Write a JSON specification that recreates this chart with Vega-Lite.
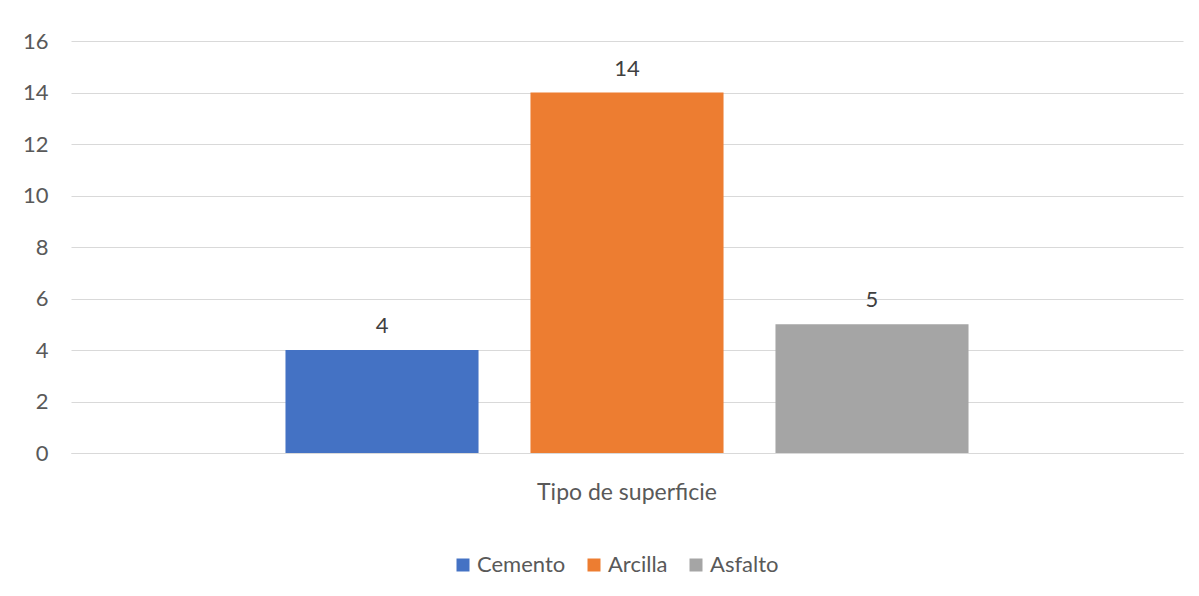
{
  "$schema": "https://vega.github.io/schema/vega-lite/v6.json",
  "autosize": {"type": "none"},
  "width": 1112,
  "height": 412,
  "padding": {"left": 71, "top": 41, "right": 16, "bottom": 143},
  "background": "white",
  "config": {
    "view": {"stroke": null},
    "font": "Lato",
    "axis": {"labelFont": "Lato", "labelColor": "#595959", "gridColor": "#d9d9d9", "domainColor": "#d9d9d9"},
    "legend": {"labelFont": "Lato", "labelColor": "#595959"}
  },
  "data": {
    "values": [
      {"categoria": "Tipo de superficie", "serie": "Cemento", "valor": 4},
      {"categoria": "Tipo de superficie", "serie": "Arcilla", "valor": 14},
      {"categoria": "Tipo de superficie", "serie": "Asfalto", "valor": 5}
    ]
  },
  "encoding": {
    "x": {
      "field": "categoria",
      "type": "nominal",
      "scale": {"paddingOuter": 0.314, "paddingInner": 0},
      "axis": {"title": null, "labelAngle": 0, "ticks": false, "domain": true, "labelFontSize": 23, "labelPadding": 28}
    },
    "xOffset": {
      "field": "serie",
      "type": "nominal",
      "sort": ["Cemento", "Arcilla", "Asfalto"],
      "scale": {"paddingInner": 0.212, "paddingOuter": 0}
    },
    "y": {
      "field": "valor",
      "type": "quantitative",
      "scale": {"domain": [0, 16]},
      "axis": {"title": null, "values": [0, 2, 4, 6, 8, 10, 12, 14, 16], "labelOverlap": false, "domain": false, "ticks": false, "labelFontSize": 22, "labelPadding": 23}
    }
  },
  "layer": [
    {
      "mark": {"type": "bar"},
      "encoding": {
        "color": {
          "field": "serie",
          "type": "nominal",
          "sort": ["Cemento", "Arcilla", "Asfalto"],
          "scale": {"domain": ["Cemento", "Arcilla", "Asfalto"], "range": ["#4472C4", "#ED7D31", "#A5A5A5"]},
          "legend": {
            "title": null,
            "orient": "none",
            "legendX": 381,
            "legendY": 513,
            "direction": "horizontal",
            "symbolType": "square",
            "symbolSize": 169,
            "symbolStrokeWidth": 0,
            "labelFontSize": 22,
            "columnPadding": 17,
            "labelOffset": 3
          }
        }
      }
    },
    {
      "mark": {"type": "text", "baseline": "bottom", "dy": -12, "fontSize": 22, "color": "#404040"},
      "encoding": {"text": {"field": "valor", "type": "quantitative"}}
    }
  ]
}
